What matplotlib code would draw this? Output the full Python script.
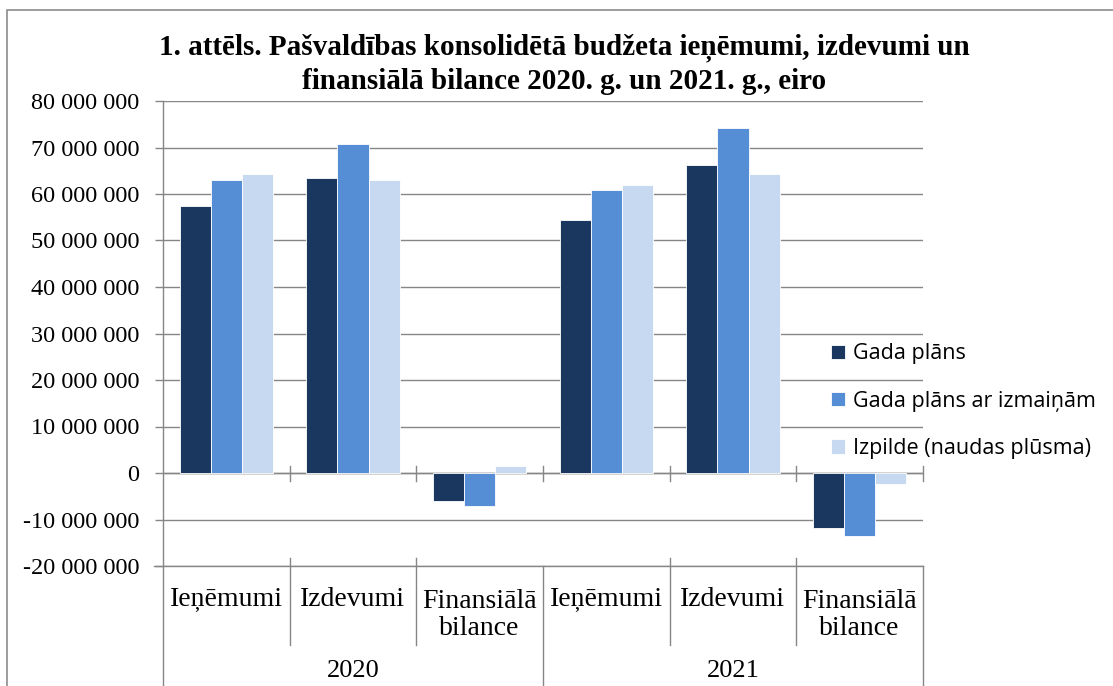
import matplotlib
matplotlib.use("Agg")
import matplotlib.pyplot as plt
from matplotlib.patches import Rectangle
from matplotlib.lines import Line2D
import matplotlib.transforms as mtransforms
import numpy as np

years = ["2020", "2021"]
categories = ["Ieņēmumi", "Izdevumi", "Finansiālā\nbilance"]
series_names = ["Gada plāns", "Gada plāns ar izmaiņām", "Izpilde (naudas plūsma)"]
gada_plans = [57.4e6, 63.5e6, -6.0e6, 54.4e6, 66.2e6, -11.9e6]
gada_plans_izm = [63.1e6, 70.7e6, -7.1e6, 60.9e6, 74.2e6, -13.5e6]
izpilde = [64.3e6, 63.0e6, 1.4e6, 61.9e6, 64.3e6, -2.4e6]
colors = ["#1A3760", "#558ED5", "#C6D9F1"]
yticks = list(range(-20_000_000, 80_000_001, 10_000_000))
title = "1. attēls. Pašvaldības konsolidētā budžeta ieņēmumi, izdevumi un\nfinansiālā bilance 2020. g. un 2021. g., eiro"

W, H = 1113, 686
fig = plt.figure(figsize=(W / 100, H / 100), dpi=100)
AX_TOP, AX_BOT = 101, 566
ax = fig.add_axes([163 / W, 1 - AX_BOT / H, (923 - 163) / W, (AX_BOT - AX_TOP) / H])

def ay(px):
    return (AX_BOT - px) / (AX_BOT - AX_TOP)

serif = "Liberation Serif"
grid_c = "#868686"

n = len(gada_plans)
x = np.arange(n)
bw = 0.245
for i, (vals, c, name) in enumerate(zip([gada_plans, gada_plans_izm, izpilde], colors, series_names)):
    ax.bar(x + (i - 1) * bw, vals, width=bw, color=c, edgecolor="white", linewidth=0.6,
           label=name, zorder=3)

ax.set_xlim(-0.5, n - 0.5)
ax.set_ylim(-20_000_000, 80_000_000)
ax.set_yticks(yticks)
ax.set_yticklabels([f"{v:,}".replace(",", " ") for v in yticks], fontfamily=serif, fontsize=17.5)
ax.yaxis.grid(True, color=grid_c, linewidth=1.0, zorder=0)
ax.set_axisbelow(True)
ax.tick_params(axis="y", length=6, color=grid_c, width=1, pad=11)
ax.set_xticks([])
for s in ["top", "right", "bottom"]:
    ax.spines[s].set_visible(False)
ax.spines["left"].set_color(grid_c)
ax.spines["left"].set_linewidth(1)

bt = mtransforms.blended_transform_factory(ax.transData, ax.transAxes)
zero_ax = ay(473.5)
for b in np.arange(0.5, n, 1.0):
    ax.add_line(Line2D([b, b], [zero_ax - 0.017, zero_ax + 0.017], transform=bt, color=grid_c,
                       linewidth=1, clip_on=False, zorder=4))
ax.axhline(0, color=grid_c, linewidth=1, zorder=2)

ax.add_line(Line2D([-0.012, 1], [0, 0], transform=ax.transAxes, color=grid_c, linewidth=1, clip_on=False))

for b in np.arange(-0.5, n + 0.5, 1.0):
    if abs(b - 2.5) < 1e-9 or abs(b + 0.5) < 1e-9 or abs(b - (n - 0.5)) < 1e-9:
        ax.add_line(Line2D([b, b], [0.0, -0.4], transform=bt, color=grid_c, linewidth=1, clip_on=False))
    else:
        ax.add_line(Line2D([b, b], [ay(558), ay(645)], transform=bt, color=grid_c, linewidth=1, clip_on=False))

for j in range(n):
    lab = categories[j % len(categories)]
    yc = ay(615) if "\n" in lab else ay(599)
    ax.text(j, yc, lab, transform=bt, ha="center", va="center", fontfamily=serif,
            fontsize=20, linespacing=1.15)
for k, yr in enumerate(years):
    ax.text(k * 3 + 1, ay(671), yr, transform=bt, ha="center", va="center", fontfamily=serif, fontsize=19)

fig.text(564 / W, 1 - 64.5 / H, title, ha="center", va="center", fontfamily=serif,
         fontweight="bold", fontsize=21, linespacing=1.3)

leg = ax.legend(loc="upper left", bbox_to_anchor=(812 / W, 1 - 324 / H), bbox_transform=fig.transFigure,
                frameon=False, prop={"family": "Open Sans", "size": 15.5}, handlelength=0.65,
                handleheight=0.65, handletextpad=0.35, labelspacing=1.22)

fig.patches.append(Rectangle((7 / W, -0.1), 1.2, 1 - 10 / H + 0.1, transform=fig.transFigure,
                             fill=False, edgecolor="#8C8C8C", linewidth=1.2))

fig.savefig("out.png", dpi=100)
